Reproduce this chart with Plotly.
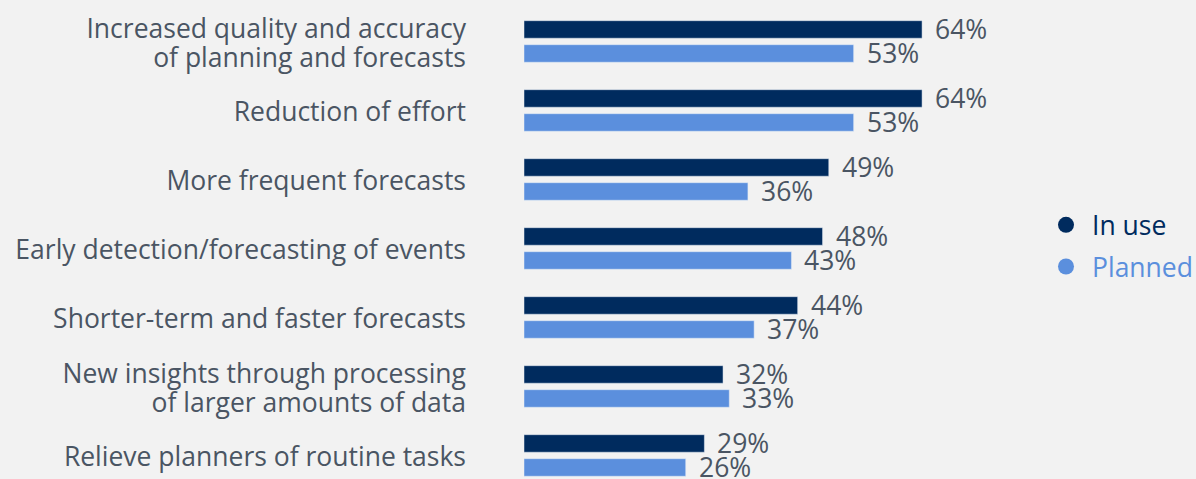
import plotly.graph_objects as go

categories = [
    "Increased quality and accuracy|of planning and forecasts",
    "Reduction of effort",
    "More frequent forecasts",
    "Early detection/forecasting of events",
    "Shorter-term and faster forecasts",
    "New insights through processing|of larger amounts of data",
    "Relieve planners of routine tasks",
]
in_use = [64, 64, 49, 48, 44, 32, 29]
planned = [53, 53, 36, 43, 37, 33, 26]

DARK = "#002b5e"
LIGHT = "#5b8fdd"
TEXT = "#4a5563"
BG = "#f2f2f2"
FONT = "Open Sans"
FS = 26.5
LINE_FS = 22.3  # base size controlling line spacing of wrapped labels

tick_text = ["<br>".join(f'<span style="font-size:{FS}px">{part}</span>' for part in c.split("|"))
             for c in categories]

fig = go.Figure()
fig.add_trace(go.Bar(y=categories, x=in_use, orientation="h", marker_color=DARK,
                     name="In use", showlegend=False))
fig.add_trace(go.Bar(y=categories, x=planned, orientation="h", marker_color=LIGHT,
                     name="Planned", showlegend=False))

fig.add_trace(go.Scatter(x=[None], y=[None], mode="markers", name="In use",
                         marker=dict(color=DARK, size=16, symbol="circle"), legend="legend"))
fig.add_trace(go.Scatter(x=[None], y=[None], mode="markers", name="Planned",
                         marker=dict(color=LIGHT, size=16, symbol="circle"), legend="legend2"))

for cat, v in zip(categories, in_use):
    fig.add_annotation(x=v, y=cat, text=f"{v}%", showarrow=False, xanchor="left",
                       xshift=11, yshift=12, font=dict(family=FONT, size=FS, color=TEXT))
for cat, v in zip(categories, planned):
    fig.add_annotation(x=v, y=cat, text=f"{v}%", showarrow=False, xanchor="left",
                       xshift=11, yshift=-12, font=dict(family=FONT, size=FS, color=TEXT))

fig.update_layout(
    width=1196, height=479,
    margin=dict(l=524, r=156, t=0, b=0, autoexpand=False),
    paper_bgcolor=BG, plot_bgcolor=BG,
    barmode="group", bargap=0.304, bargroupgap=0.27,
    font=dict(family=FONT, size=FS, color=TEXT),
    legend=dict(x=1.0, y=0.53, xanchor="left", yanchor="middle", bgcolor="rgba(0,0,0,0)",
                itemwidth=42, font=dict(family=FONT, size=FS, color=DARK)),
    legend2=dict(x=1.0, y=0.443, xanchor="left", yanchor="middle", bgcolor="rgba(0,0,0,0)",
                 itemwidth=42, font=dict(family=FONT, size=FS, color=LIGHT)),
)
fig.update_xaxes(range=[0, 82.96], visible=False, showgrid=False, zeroline=False)
fig.update_yaxes(range=[6.341, -0.601], categoryorder="array", categoryarray=categories,
                 tickmode="array", tickvals=categories, ticktext=tick_text,
                 showgrid=False, zeroline=False, showline=False, ticks="",
                 ticklabelstandoff=57, ticklabelshift=-3,
                 tickfont=dict(family=FONT, size=LINE_FS, color=TEXT))

fig.write_html("out.html", config={"displayModeBar": False},
               post_script="document.body.style.margin='0';document.body.style.background='#f2f2f2';")
